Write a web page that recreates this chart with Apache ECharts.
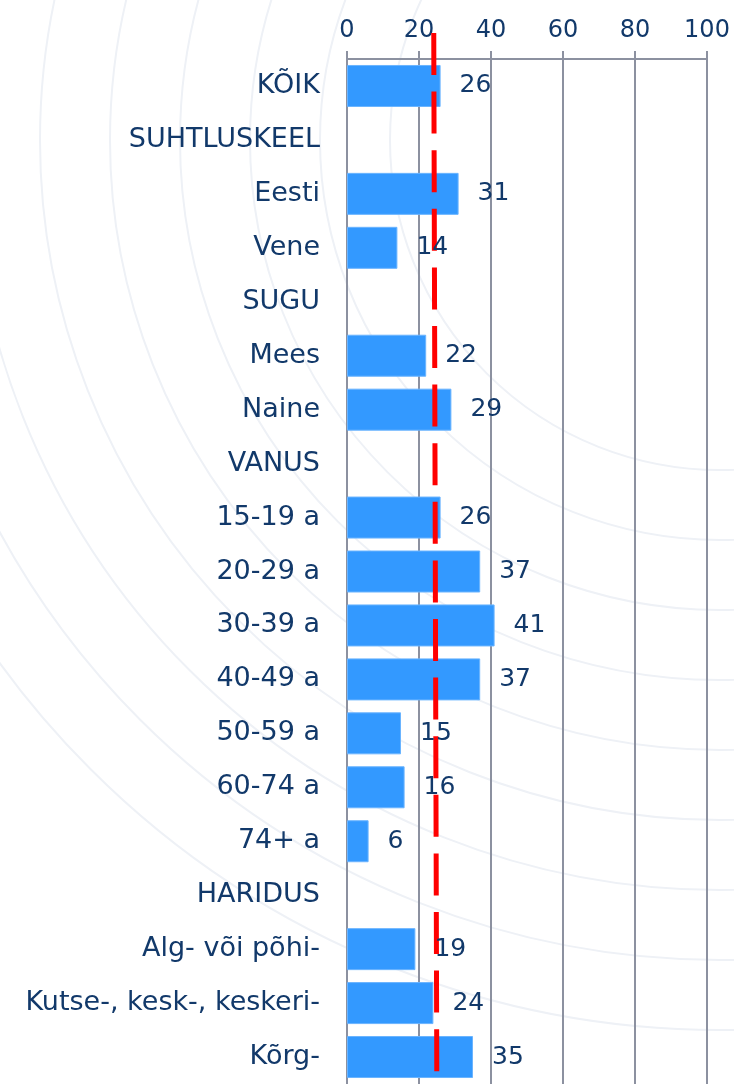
<!DOCTYPE html>
<html>
<head>
<meta charset="utf-8">
<script src="https://cdn.jsdelivr.net/npm/echarts@6/dist/echarts.min.js"></script>
<style>
  html, body { margin: 0; padding: 0; background: #fff; }
  #chart { width: 734px; height: 1084px; }
</style>
</head>
<body>
<div id="chart"></div>
<script>
// categories top to bottom, group headers have no value
const categories = [
  'KÕIK', 'SUHTLUSKEEL', 'Eesti', 'Vene', 'SUGU', 'Mees', 'Naine', 'VANUS',
  '15-19 a', '20-29 a', '30-39 a', '40-49 a', '50-59 a', '60-74 a', '74+ a',
  'HARIDUS', 'Alg- või põhi-', 'Kutse-, kesk-, keskeri-', 'Kõrg-'
];
const values = [26, null, 31, 14, null, 22, 29, null, 26, 37, 41, 37, 15, 16, 6, null, 19, 24, 35];
const xTicks = [0, 20, 40, 60, 80, 100];
// red dashed reference line, x value at top and at bottom
const refLine = [[24.1, 1], [24.95, 0]];

const navy = '#12396a';
const gridGray = '#8c91a0';

const chart = echarts.init(document.getElementById('chart'));

// faint background swirl
const deco = [];
const rings = [330, 400, 470, 540, 610, 680, 750, 820, 890];
rings.forEach(function (r) {
  deco.push({
    type: 'circle',
    shape: { cx: 720, cy: 140, r: r },
    style: { fill: 'none', stroke: '#eef1f6', lineWidth: 2 },
    silent: true,
    z: -10
  });
});

const option = {
  backgroundColor: '#fff',
  animation: false,
  graphic: deco,
  grid: [
    { left: 347, right: 27, top: 59, bottom: -2 },
    { left: 347, right: 27, top: 33, bottom: -2 }
  ],
  xAxis: [
    {
      gridIndex: 0,
      type: 'value',
      position: 'top',
      min: 0,
      max: 100,
      interval: 20,
      axisLine: { show: true, lineStyle: { color: gridGray, width: 2 } },
      axisTick: { show: true, length: 8, lineStyle: { color: gridGray, width: 2 } },
      axisLabel: {
        color: navy,
        fontSize: 24,
        fontFamily: 'DejaVu Sans',
        margin: 16,
        formatter: function (v) { return xTicks.indexOf(v) >= 0 ? String(v) : ''; }
      },
      splitLine: { show: true, lineStyle: { color: gridGray, width: 2 } }
    },
    { gridIndex: 1, type: 'value', min: 0, max: 100, show: false }
  ],
  yAxis: [
    {
      gridIndex: 0,
      type: 'category',
      inverse: true,
      data: categories,
      axisLine: { show: false },
      axisTick: { show: false },
      axisLabel: {
        color: navy,
        fontSize: 27,
        fontFamily: 'DejaVu Sans',
        margin: 27
      }
    },
    { gridIndex: 1, type: 'value', min: 0, max: 1, show: false }
  ],
  series: [
    {
      type: 'bar',
      xAxisIndex: 0,
      yAxisIndex: 0,
      data: values,
      barWidth: 42,
      itemStyle: { color: '#3399ff', borderColor: '#6ab4ff', borderWidth: 1 },
      z: 2
    },
    {
      type: 'line',
      xAxisIndex: 1,
      yAxisIndex: 1,
      data: refLine,
      symbol: 'none',
      lineStyle: { color: '#ff0000', width: 5, type: [42, 16.6] },
      z: 3
    },
    {
      type: 'bar',
      xAxisIndex: 0,
      yAxisIndex: 0,
      data: values,
      barWidth: 42,
      barGap: '-100%',
      itemStyle: { color: 'rgba(0,0,0,0)' },
      label: {
        show: true,
        position: 'right',
        distance: 19,
        color: navy,
        fontSize: 25,
        fontFamily: 'DejaVu Sans'
      },
      z: 4
    }
  ]
};

chart.setOption(option);
</script>
</body>
</html>
